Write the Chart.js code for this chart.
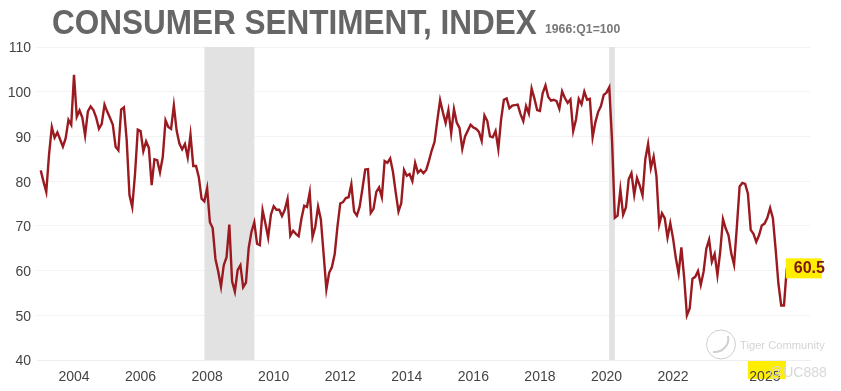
<!DOCTYPE html>
<html>
<head>
<meta charset="utf-8">
<title>Consumer Sentiment, Index</title>
<script src="https://cdn.jsdelivr.net/npm/chart.js@4"></script>
<style>
    html, body { margin: 0; padding: 0; background: #fff; }
    #wrap { position: relative; width: 841px; height: 391px; overflow: hidden; }
    #chart { position: absolute; left: 0; top: 0; }
    .txt { position: absolute; white-space: nowrap; }
    #title { left: 52px; top: 2px; font: bold 35px "Liberation Sans", sans-serif; color: #666; filter: blur(0.6px); transform-origin: left top; transform: scaleX(0.9); }
    #base { left: 545px; top: 22px; font: bold 12px "Liberation Sans", sans-serif; color: #777; transform-origin: left top; transform: scaleX(1.02); }
    #wm1 { left: 740px; top: 339px; font: 11.2px "Liberation Sans", sans-serif; color: #d4d4d4; }
    #wm2 { left: 769px; top: 364px; font: 14px "Liberation Sans", sans-serif; color: #d8d8d8; }
    #logo { position: absolute; left: 705px; top: 329px; }
</style>
</head>
<body>
<div id="wrap">
    <canvas id="chart" width="841" height="391"></canvas>
    <div class="txt" id="title">CONSUMER SENTIMENT, INDEX</div>
    <div class="txt" id="base">1966:Q1=100</div>
    <svg id="logo" width="32" height="32" fill="none" stroke="#cfcfcf">
        <circle cx="16" cy="15.5" r="14.5"/>
        <path d="M23 7 C25 16 17 24 8 23" stroke-width="2"/>
    </svg>
    <div class="txt" id="wm1">Tiger Community</div>
    <div class="txt" id="wm2">@UC888</div>
</div>
<script>
// Monthly index values, one row per year, starting Jan 2003
const sentiment2003 = [82.4, 79.9, 77.6, 86.0, 92.1, 89.7, 90.9, 89.3, 87.7, 89.6, 93.7, 92.6];
const sentiment2004 = [103.8, 94.4, 95.8, 94.2, 90.2, 95.6, 96.7, 95.9, 94.2, 91.7, 92.8, 97.1];
const sentiment2005 = [95.5, 94.1, 92.6, 87.7, 86.9, 96.0, 96.5, 89.1, 76.9, 74.2, 81.6, 91.5];
const sentiment2006 = [91.2, 86.7, 88.9, 87.4, 79.1, 84.9, 84.7, 82.0, 85.4, 93.6, 92.1, 91.7];
const sentiment2007 = [96.9, 91.3, 88.4, 87.1, 88.3, 85.3, 90.4, 83.4, 83.4, 80.9, 76.1, 75.5];
const sentiment2008 = [78.4, 70.8, 69.5, 62.6, 59.8, 56.4, 61.2, 63.0, 70.3, 57.6, 55.3, 60.1];
const sentiment2009 = [61.2, 56.3, 57.3, 65.1, 68.7, 70.8, 66.0, 65.7, 73.5, 70.6, 67.4, 72.5];
const sentiment2010 = [74.4, 73.6, 73.6, 72.2, 73.6, 76.0, 67.8, 68.9, 68.2, 67.7, 71.6, 74.5];
const sentiment2011 = [74.2, 77.5, 67.5, 69.8, 74.3, 71.5, 63.7, 55.8, 59.5, 60.8, 63.7, 69.9];
const sentiment2012 = [75.0, 75.3, 76.2, 76.4, 79.3, 73.2, 72.3, 74.3, 78.3, 82.6, 82.7, 72.9];
const sentiment2013 = [73.8, 77.6, 78.6, 76.4, 84.5, 84.1, 85.1, 82.1, 77.5, 73.2, 75.1, 82.5];
const sentiment2014 = [81.2, 81.6, 80.0, 84.1, 81.9, 82.5, 81.8, 82.5, 84.6, 86.9, 88.8, 93.6];
const sentiment2015 = [98.1, 95.4, 93.0, 95.9, 90.7, 96.1, 93.1, 91.9, 87.2, 90.0, 91.3, 92.6];
const sentiment2016 = [92.0, 91.7, 91.0, 89.0, 94.7, 93.5, 90.0, 89.8, 91.2, 87.2, 93.8, 98.2];
const sentiment2017 = [98.5, 96.3, 96.9, 97.0, 97.1, 95.0, 93.4, 96.8, 95.1, 100.7, 98.5, 95.9];
const sentiment2018 = [95.7, 99.7, 101.4, 98.8, 98.0, 98.2, 97.9, 96.2, 100.1, 98.6, 97.5, 98.3];
const sentiment2019 = [91.2, 93.8, 98.4, 97.2, 100.0, 98.2, 98.4, 89.8, 93.2, 95.5, 96.8, 99.3];
const sentiment2020 = [99.8, 101.0, 89.1, 71.8, 72.3, 78.1, 72.5, 74.1, 80.4, 81.8, 76.9, 80.7];
const sentiment2021 = [79.0, 76.8, 84.9, 88.3, 82.9, 85.5, 81.2, 70.3, 72.8, 71.7, 67.4, 70.6];
const sentiment2022 = [67.2, 62.8, 59.4, 65.2, 58.4, 50.0, 51.5, 58.2, 58.6, 59.9, 56.8, 59.7];
const sentiment2023 = [64.9, 66.9, 62.0, 63.7, 59.0, 64.2, 71.5, 69.4, 67.9, 63.8, 61.3, 69.7];
const sentiment2024 = [78.8, 79.6, 79.4, 77.2, 69.1, 68.2, 66.4, 67.9, 70.1, 70.5, 71.8, 74.0];
const sentiment2025 = [71.7, 64.7, 57.0, 52.2, 52.2, 60.5];

const yearRows = [
    sentiment2003, sentiment2004, sentiment2005, sentiment2006, sentiment2007, sentiment2008,
    sentiment2009, sentiment2010, sentiment2011, sentiment2012, sentiment2013, sentiment2014,
    sentiment2015, sentiment2016, sentiment2017, sentiment2018, sentiment2019, sentiment2020,
    sentiment2021, sentiment2022, sentiment2023, sentiment2024, sentiment2025
];
const firstYear = 2003;

// Recessions in decimal years
const recessionStarts = [2007.92, 2020.08];
const recessionEnds = [2009.42, 2020.25];

// The last label sits left of its true year in the source, so position and text are separate
const xTickValues = [2004, 2006, 2008, 2010, 2012, 2014, 2016, 2018, 2020, 2022, 2024.76];
const xTickLabels = ['2004', '2006', '2008', '2010', '2012', '2014', '2016', '2018', '2020', '2022', '2025'];
const lastLabel = '60.5';

const points = [];
yearRows.forEach((row, y) => {
    row.forEach((value, m) => points.push({ x: firstYear + y + m / 12, y: value }));
});

// Recession bands and yellow highlights
const overlays = {
    id: 'overlays',
    beforeDatasetsDraw(chart) {
        const { ctx, chartArea, scales } = chart;
        ctx.save();
        ctx.fillStyle = '#e2e2e2';
        recessionStarts.forEach((start, i) => {
            const x0 = scales.x.getPixelForValue(start);
            const x1 = scales.x.getPixelForValue(recessionEnds[i]);
            ctx.fillRect(x0, chartArea.top, x1 - x0, chartArea.bottom - chartArea.top);
        });
        ctx.restore();
    },
    afterDatasetsDraw(chart) {
        const { ctx } = chart;
        const last = chart.getDatasetMeta(0).data[points.length - 1];
        ctx.save();
        ctx.fillStyle = '#ffee00';
        ctx.fillRect(last.x - 1, last.y - 10, 36, 20);
        ctx.fillStyle = '#7d1414';
        ctx.font = 'bold 16px "Liberation Sans", sans-serif';
        ctx.textBaseline = 'middle';
        ctx.fillText(lastLabel, last.x + 7, last.y);
        ctx.restore();
    },
    beforeDraw(chart) {
        const { ctx, chartArea, scales } = chart;
        const x = scales.x.getPixelForValue(xTickValues[xTickValues.length - 1]);
        ctx.save();
        ctx.fillStyle = '#ffee00';
        ctx.fillRect(x - 17, chartArea.bottom + 1, 38, 18);
        ctx.restore();
    }
};

new Chart(document.getElementById('chart').getContext('2d'), {
    type: 'line',
    plugins: [overlays],
    data: {
        datasets: [{
            label: 'Consumer sentiment',
            data: points,
            borderColor: '#9a1a20',
            borderWidth: 2.4,
            pointRadius: 0,
            tension: 0,
            fill: false
        }]
    },
    options: {
        responsive: false,
        animation: false,
        layout: { padding: { top: 47, right: 31, left: 0, bottom: 0 } },
        plugins: { legend: { display: false }, tooltip: { enabled: false } },
        scales: {
            x: {
                type: 'linear',
                min: 2002.888,
                max: 2026.115,
                afterBuildTicks(axis) { axis.ticks = xTickValues.map(value => ({ value })); },
                afterFit(axis) { axis.height = 31; },
                grid: { display: false },
                border: { color: '#eeeeee' },
                ticks: {
                    autoSkip: false,
                    maxRotation: 0,
                    padding: 1,
                    color: '#444',
                    font: { family: '"Liberation Sans", sans-serif', size: 14 },
                    callback(value) { return xTickLabels[xTickValues.indexOf(value)]; }
                }
            },
            y: {
                min: 40,
                max: 110,
                afterFit(axis) { axis.width = 37; },
                grid: { color: '#f3f3f3', drawTicks: false },
                border: { display: false },
                ticks: {
                    stepSize: 10,
                    padding: 6,
                    color: '#444',
                    font: { family: '"Liberation Sans", sans-serif', size: 14, lineHeight: '3px' },
                    // empty first line pushes the number down a little, labels sit below the gridline
                    callback(value) { return ['', String(value)]; }
                }
            }
        }
    }
});
</script>
</body>
</html>
